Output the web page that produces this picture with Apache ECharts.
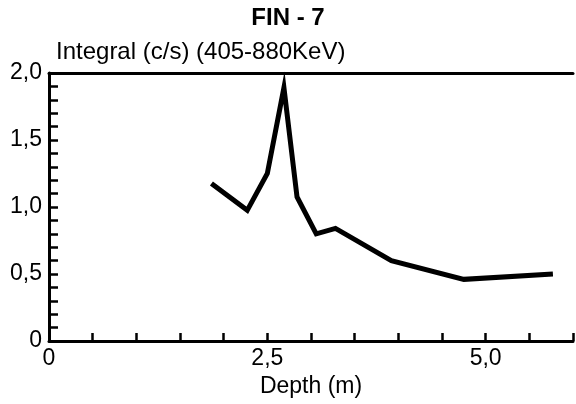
<!DOCTYPE html>
<html>
<head>
    <meta charset="utf-8">
    <title>FIN - 7</title>
    <script src="https://cdn.jsdelivr.net/npm/echarts@6/dist/echarts.min.js"></script>
    <style>
        html, body { margin: 0; padding: 0; background: #fff; }
        #chart { width: 576px; height: 404px; }
    </style>
</head>
<body>
    <div id="chart"></div>
    <script>
        // depth (m) and integral count rate (c/s)
        const depth = [1.86, 2.27, 2.50, 2.69, 2.84, 3.06, 3.28, 3.92, 4.75, 5.77];
        const integral = [1.175, 0.975, 1.25, 1.89, 1.075, 0.80, 0.84, 0.60, 0.46, 0.50];

        const font = "'Liberation Sans', Arial, sans-serif";
        // decimal comma like the original
        const fmt = v => v === 0 ? '0' : v.toFixed(1).replace('.', ',');

        const chart = echarts.init(document.getElementById('chart'));
        chart.setOption({
            animation: false,
            title: [
                { text: 'FIN - 7', left: 'center', top: 6, padding: 0,
                  textStyle: { fontFamily: font, fontSize: 24, fontWeight: 'bold', color: '#000' } },
                { text: 'Integral (c/s) (405-880KeV)', left: 56, top: 40, padding: 0,
                  textStyle: { fontFamily: font, fontSize: 24, fontWeight: 'normal', color: '#000' } }
            ],
            grid: { left: 49, right: 0, top: 73, bottom: 63 },
            xAxis: [{
                type: 'value',
                min: 0, max: 6, interval: 0.5,
                name: 'Depth (m)',
                nameLocation: 'middle',
                nameGap: 30,
                nameTextStyle: { fontFamily: font, fontSize: 23, color: '#000' },
                axisLine: { lineStyle: { color: '#000', width: 3 } },
                axisTick: { inside: true, length: 8, lineStyle: { color: '#000', width: 2.5 } },
                axisLabel: {
                    margin: 6, fontFamily: font, fontSize: 23, color: '#000',
                    formatter: v => (v % 2.5 === 0 && v < 6) ? fmt(v) : ''
                },
                splitLine: { show: false }
            }, {
                type: 'value', position: 'top', min: 0, max: 6,
                axisLine: { show: true, lineStyle: { color: '#000', width: 3 } },
                axisTick: { show: false }, axisLabel: { show: false }, splitLine: { show: false }
            }],
            yAxis: {
                type: 'value',
                min: 0, max: 2, interval: 0.5,
                axisLine: { show: true, lineStyle: { color: '#000', width: 3 } },
                axisTick: { inside: true, length: 9, lineStyle: { color: '#000', width: 2.5 } },
                minorTick: { show: true, splitNumber: 5, length: 9, lineStyle: { color: '#000', width: 2.5 } },
                axisLabel: { margin: 7, fontFamily: font, fontSize: 23, color: '#000', formatter: fmt },
                splitLine: { show: false }
            },
            series: [{
                type: 'line',
                xAxisIndex: 0,
                data: depth.map((d, i) => [d, integral[i]]),
                showSymbol: false,
                lineStyle: { color: '#000', width: 5, join: 'miter' }
            }]
        });
    </script>
</body>
</html>
